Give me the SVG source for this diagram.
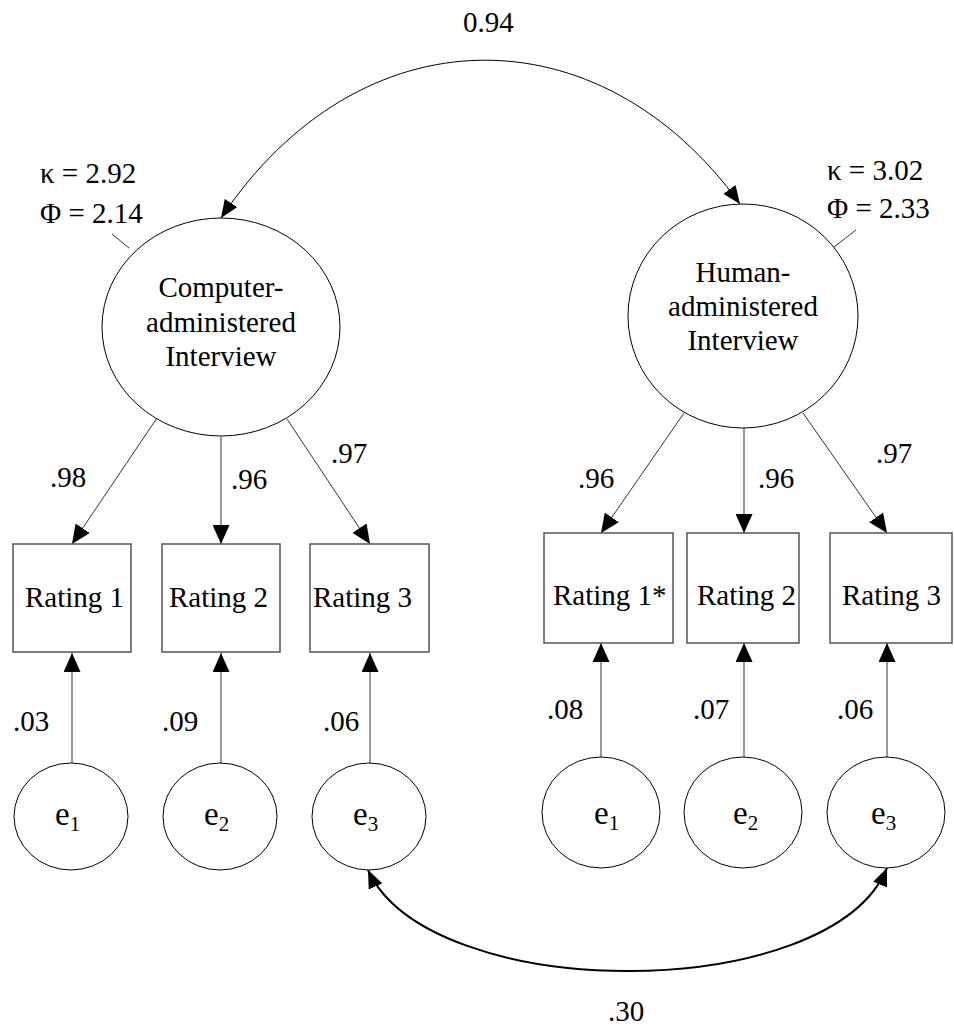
<svg xmlns="http://www.w3.org/2000/svg" width="954" height="1027" viewBox="0 0 954 1027">
<defs>
<style>
text{font-family:'Liberation Serif','Times New Roman','DejaVu Serif',serif;fill:#000;}
.lbl{font-size:29px;}
.nt{font-size:29px;text-anchor:middle;}
.et{font-size:33px;}
.sub{font-size:21px;}
.lat{fill:#fff;stroke:#000;stroke-width:1;}
.obs{fill:#fff;stroke:#555;stroke-width:1.5;}
.ln{fill:none;stroke:#333;stroke-width:1;}
.arc{fill:none;stroke:#000;stroke-width:1;}
.arc2{fill:none;stroke:#000;stroke-width:2;}
</style>
<marker id="ah" markerUnits="userSpaceOnUse" markerWidth="19" markerHeight="17" refX="19" refY="8.5" orient="auto-start-reverse" viewBox="0 0 19 17">
<path d="M0,0 L19,8.5 L0,17 z" fill="#000"/>
</marker>
<marker id="ah2" markerUnits="userSpaceOnUse" markerWidth="18" markerHeight="15" refX="18" refY="7.5" orient="auto-start-reverse" viewBox="0 0 18 15">
<path d="M0,0 L18,7.5 L0,15 z" fill="#000"/>
</marker>
</defs>
<rect width="954" height="1027" fill="#fff"/>

<g id="connectors">
<path class="arc" d="M221,218 C360,10 600,10 740,204" marker-start="url(#ah2)" marker-end="url(#ah2)"/>
<path class="arc2" d="M368,870 C430,1005 830,1005 887,868" marker-start="url(#ah2)" marker-end="url(#ah2)"/>
<line class="ln" x1="112" y1="234" x2="129" y2="248"/>
<line class="ln" x1="856" y1="230" x2="834" y2="247"/>
<line class="ln" x1="157" y1="418" x2="72" y2="544" marker-end="url(#ah)"/>
<line class="ln" x1="221" y1="437" x2="221" y2="544" marker-end="url(#ah)"/>
<line class="ln" x1="287" y1="419" x2="370" y2="544" marker-end="url(#ah)"/>
<line class="ln" x1="684" y1="413" x2="601" y2="533" marker-end="url(#ah)"/>
<line class="ln" x1="744" y1="428" x2="744" y2="533" marker-end="url(#ah)"/>
<line class="ln" x1="803" y1="413" x2="887" y2="533" marker-end="url(#ah)"/>
<line class="ln" x1="72" y1="763" x2="72" y2="653" marker-end="url(#ah)"/>
<line class="ln" x1="221" y1="763" x2="221" y2="653" marker-end="url(#ah)"/>
<line class="ln" x1="370" y1="763" x2="370" y2="653" marker-end="url(#ah)"/>
<line class="ln" x1="601" y1="757" x2="601" y2="643" marker-end="url(#ah)"/>
<line class="ln" x1="744" y1="757" x2="744" y2="643" marker-end="url(#ah)"/>
<line class="ln" x1="887" y1="757" x2="887" y2="643" marker-end="url(#ah)"/>
</g>

<g id="labels">
<text class="lbl" x="463" y="32">0.94</text>
<text class="lbl" x="608" y="1021">.30</text>
<text class="lbl" x="40" y="183">κ = 2.92</text>
<text class="lbl" x="40" y="223">Φ = 2.14</text>
<text class="lbl" x="827" y="180">κ = 3.02</text>
<text class="lbl" x="827" y="218">Φ = 2.33</text>
<text class="lbl" x="50" y="487">.98</text>
<text class="lbl" x="231" y="489">.96</text>
<text class="lbl" x="331" y="463">.97</text>
<text class="lbl" x="578" y="488">.96</text>
<text class="lbl" x="758" y="488">.96</text>
<text class="lbl" x="876" y="463">.97</text>
<text class="lbl" x="13" y="731">.03</text>
<text class="lbl" x="162" y="731">.09</text>
<text class="lbl" x="323" y="731">.06</text>
<text class="lbl" x="547" y="719">.08</text>
<text class="lbl" x="693" y="719">.07</text>
<text class="lbl" x="837" y="719">.06</text>
</g>

<g id="computer">
<ellipse class="lat" cx="221" cy="327" rx="119" ry="109"/>
<text class="nt" x="221" y="297">Computer-</text>
<text class="nt" x="221" y="332">administered</text>
<text class="nt" x="221" y="366">Interview</text>
</g>
<g id="human">
<ellipse class="lat" cx="743" cy="316" rx="115" ry="112"/>
<text class="nt" x="743" y="282">Human-</text>
<text class="nt" x="743" y="316">administered</text>
<text class="nt" x="743" y="350">Interview</text>
</g>

<g id="c_rating1"><rect class="obs" x="13" y="544" width="118" height="108"/><text class="lbl" x="25" y="607">Rating 1</text></g>
<g id="c_rating2"><rect class="obs" x="162" y="544" width="118" height="108"/><text class="lbl" x="169" y="607">Rating 2</text></g>
<g id="c_rating3"><rect class="obs" x="310" y="544" width="119" height="108"/><text class="lbl" x="313" y="607">Rating 3</text></g>
<g id="h_rating1"><rect class="obs" x="544" y="533" width="129" height="110"/><text class="lbl" x="553" y="605">Rating 1*</text></g>
<g id="h_rating2"><rect class="obs" x="687" y="533" width="112" height="110"/><text class="lbl" x="697" y="605">Rating 2</text></g>
<g id="h_rating3"><rect class="obs" x="830" y="533" width="122" height="110"/><text class="lbl" x="842" y="605">Rating 3</text></g>

<g id="c_e1"><ellipse class="lat" cx="71" cy="816.5" rx="57" ry="53.5"/><text class="et" x="55" y="825">e<tspan class="sub" dy="6">1</tspan></text></g>
<g id="c_e2"><ellipse class="lat" cx="220" cy="816.5" rx="57" ry="53.5"/><text class="et" x="204" y="825">e<tspan class="sub" dy="6">2</tspan></text></g>
<g id="c_e3"><ellipse class="lat" cx="369" cy="816.5" rx="57" ry="53.5"/><text class="et" x="353" y="825">e<tspan class="sub" dy="6">3</tspan></text></g>
<g id="h_e1"><ellipse class="lat" cx="601" cy="812.5" rx="59" ry="55.5"/><text class="et" x="594" y="824">e<tspan class="sub" dy="6">1</tspan></text></g>
<g id="h_e2"><ellipse class="lat" cx="743" cy="812.5" rx="59" ry="55.5"/><text class="et" x="733" y="824">e<tspan class="sub" dy="6">2</tspan></text></g>
<g id="h_e3"><ellipse class="lat" cx="886" cy="812.5" rx="59" ry="55.5"/><text class="et" x="871" y="824">e<tspan class="sub" dy="6">3</tspan></text></g>
</svg>
